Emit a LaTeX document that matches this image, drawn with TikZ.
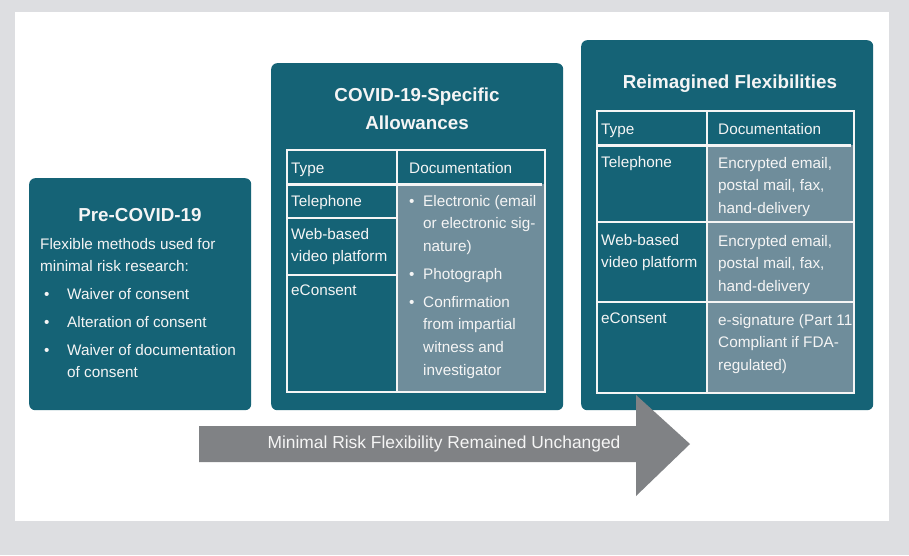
\documentclass[tikz,border=0pt]{standalone}
\usepackage{fontspec}
\setmainfont{Liberation Sans}
\usetikzlibrary{positioning}
\definecolor{panelteal}{RGB}{21,99,118}
\definecolor{cellgray}{RGB}{111,141,155}
\definecolor{arrowgray}{RGB}{128,130,133}
\definecolor{pagegray}{RGB}{221,222,225}
\definecolor{textwhite}{RGB}{245,245,245}

\begin{document}
\begin{tikzpicture}[x=1pt, y=-1pt,
  panel/.style={rectangle, fill=panelteal, rounded corners=6pt, anchor=north west, inner sep=0pt},
  heading/.style={font=\fontsize{18.8}{28}\selectfont\bfseries, text=textwhite, align=center, anchor=base, inner sep=0pt},
  body/.style={font=\fontsize{15.3}{22.7}\selectfont, text=textwhite, align=left, anchor=base west, inner sep=0pt},
  grid/.style={draw=textwhite, line width=1.3pt},
  rule/.style={draw=textwhite, line width=3pt}
]
\useasboundingbox (0,0) rectangle (909,555);
\fill[pagegray] (0,0) rectangle (909,555);
\fill[white] (15,12) rectangle (889,521);

\node[panel, minimum width=222pt, minimum height=232pt] (pre) at (29,178) {};
\node[panel, minimum width=292pt, minimum height=347pt] (covid) at (271,63) {};
\node[panel, minimum width=292pt, minimum height=370pt] (reimag) at (581,40) {};

% pre-covid panel
\node[heading] (pretitle) at (140,221) {Pre-COVID-19};
\node[body] (preintro) at (40,271.7) {Flexible methods used for\\minimal risk research:};
\foreach \y/\z/\n/\t in {299/299/a/{Waiver of consent}, 327/327/b/{Alteration of consent}, 355/377.7/c/{Waiver of documentation\\of consent}} {
  \node[body] (predot\n) at (44,\y) {\textbullet};
  \node[body] (preitem\n) at (67,\z) {\t};
}

% covid-19 panel
\node[heading] (covidtitle) at (417,129) {COVID-19-Specific\\Allowances};
\fill[cellgray] (397,184) rectangle (545,392);
\draw[grid] (287,150) rectangle (545,392);
\draw[grid] (397,150) -- (397,392);
\draw[grid] (287,218) -- (397,218) (287,275) -- (397,275);
\draw[rule] (287,184) -- (542,184);
\node[body] (ctype) at (291,173) {Type};
\node[body] (cdoc) at (409,173) {Documentation};
\node[body] (cphone) at (291,206) {Telephone};
\node[body] (cweb) at (291,261.7) {Web-based\\video platform};
\node[body] (cecons) at (291,295) {eConsent};
\foreach \y/\z/\n/\t in {206/251.4/a/{Electronic (email\\or electronic sig-\\nature)}, 279/279/b/{Photograph}, 307/375.1/c/{Confirmation\\from impartial\\witness and\\investigator}} {
  \node[body] (cdot\n) at (409,\y) {\textbullet};
  \node[body] (citem\n) at (423,\z) {\t};
}

% reimagined panel
\node[heading] (reimtitle) at (730,88) {Reimagined Flexibilities};
\fill[cellgray] (707,145) rectangle (854,393);
\draw[grid] (597,111) rectangle (854,393);
\draw[grid] (707,111) -- (707,393);
\draw[grid] (597,222) -- (854,222) (597,302) -- (854,302);
\draw[rule] (597,145) -- (851,145);
\node[body] (rtype) at (601,134) {Type};
\node[body] (rdoc) at (718,134) {Documentation};
\node[body] (rphone) at (601,167) {Telephone};
\node[body] (rweb) at (601,267.7) {Web-based\\video platform};
\node[body] (recons) at (601,323) {eConsent};
\node[body] (rphonedoc) at (718,213.4) {Encrypted email,\\postal mail, fax,\\hand-delivery};
\node[body] (rwebdoc) at (718,291.4) {Encrypted email,\\postal mail, fax,\\hand-delivery};
\node[body] (reconsdoc) at (718,370.4) {e-signature (Part 11\\Compliant if FDA-\\regulated)};

% arrow
\fill[arrowgray] (199,426) -- (636,426) -- (636,395) -- (690,444) -- (636,496) -- (636,462) -- (199,462) -- cycle;
\node[font=\fontsize{17.4}{20}\selectfont, text=textwhite, inner sep=0pt] (flex) at (444,444) {Minimal Risk Flexibility Remained Unchanged};
\end{tikzpicture}
\end{document}
